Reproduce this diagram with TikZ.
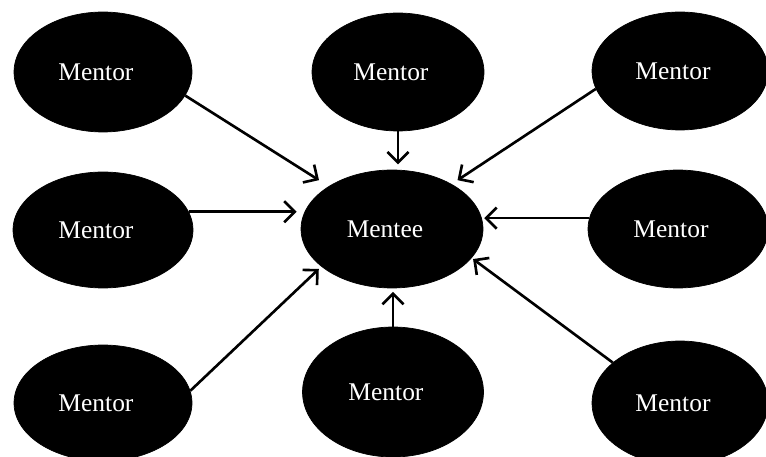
\documentclass[tikz,border=0pt]{standalone}
\usepackage{fontspec}
\setmainfont{Liberation Serif}
\usetikzlibrary{shapes.geometric,arrows.meta}

\begin{document}
\begin{tikzpicture}[x=0.02cm, y=0.02cm,
  bubble/.style={draw, ellipse, fill=black, text=white, inner sep=0pt, font=\fontsize{14.5}{17}\selectfont,
    execute at end node=\hspace*{8pt}},
  arr/.style={-{Straight Barb[length=6pt,width=12pt]}, line width=1.5pt}]
\useasboundingbox (0,0) rectangle (766,456);
\node[bubble, minimum width=3.56cm, minimum height=2.4cm] (TL) at (103,384) {Mentor};
\node[bubble, minimum width=3.44cm, minimum height=2.36cm] (TC) at (398,384) {Mentor};
\node[bubble, minimum width=3.52cm, minimum height=2.36cm] (TR) at (680,385) {Mentor};
\node[bubble, minimum width=3.6cm, minimum height=2.32cm] (ML) at (103,226) {Mentor};
\node[bubble, minimum width=3.64cm, minimum height=2.36cm] (E) at (392,227) {Mentee};
\node[bubble, minimum width=3.6cm, minimum height=2.36cm] (MR) at (678,227) {Mentor};
\node[bubble, minimum width=3.56cm, minimum height=2.32cm] (BL) at (103,53) {Mentor};
\node[bubble, minimum width=3.62cm, minimum height=2.6cm] (BC) at (393,64) {Mentor};
\node[bubble, minimum width=3.52cm, minimum height=2.48cm] (BR) at (680,53) {Mentor};
\draw[arr, shorten >=6.5pt] (TL.-16) -- (E.146);
\draw[arr, shorten >=3pt] (TC.south) -- (TC.south |- E.north);
\draw[arr, shorten >=4pt] (TR.192) -- (E.37);
\draw[arr, shorten >=2.3pt] (ML.12) -- (ML.12 -| E.west);
\draw[arr, shorten >=0.5pt] (MR.173) -- (MR.173 -| E.east);
\draw[arr, shorten >=2pt] (BL.8) -- (E.208);
\draw[arr, shorten >=2pt] (BC.north) -- (BC.north |- E.south);
\draw[arr, shorten >=1pt] (BR.149) -- (E.-20);
\end{tikzpicture}
\end{document}
